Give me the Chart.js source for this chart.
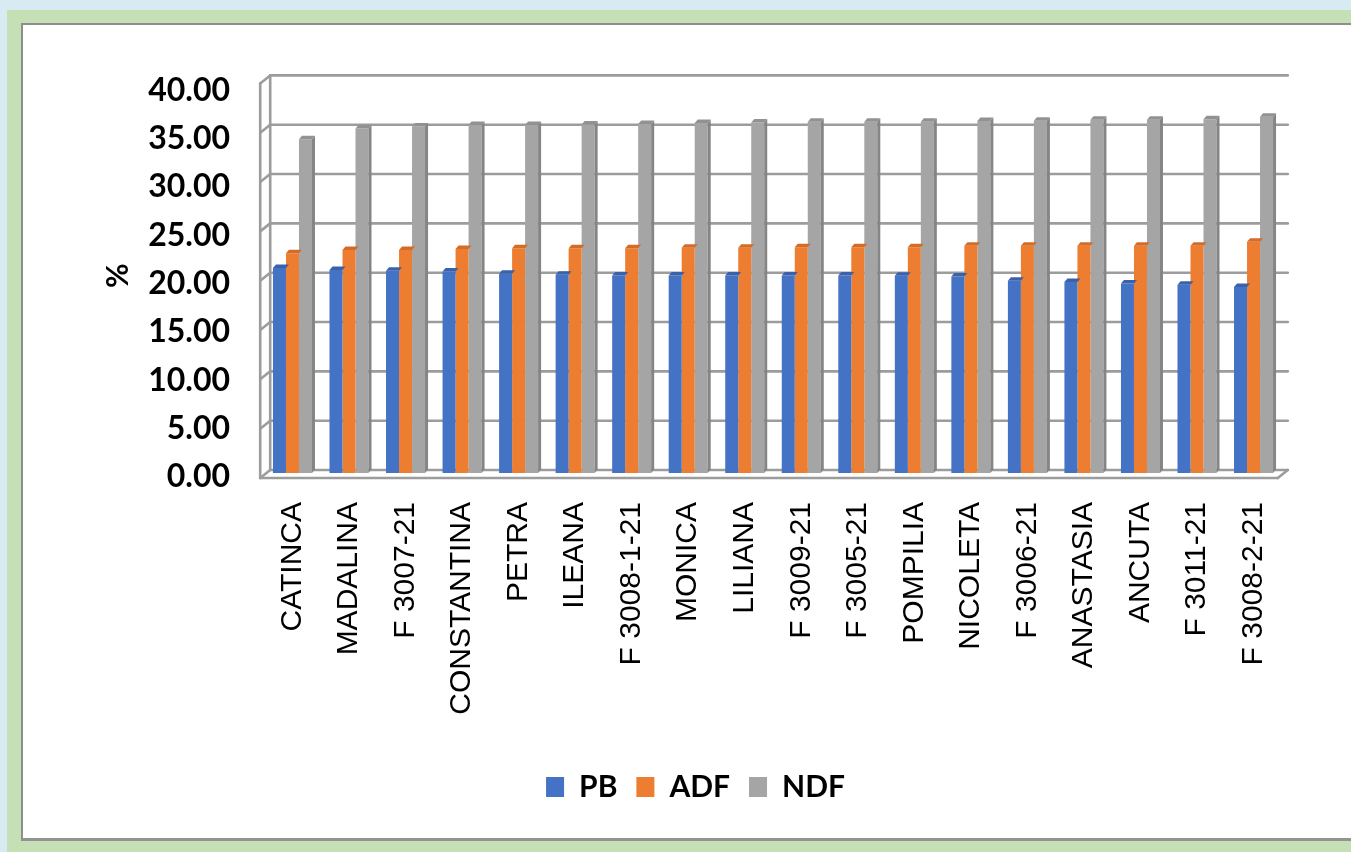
<!DOCTYPE html>
<html>
<head>
<meta charset="utf-8">
<script src="https://cdn.jsdelivr.net/npm/chart.js@4/dist/chart.umd.min.js"></script>
<style>
  html, body { margin: 0; padding: 0; }
  body { width: 1351px; height: 852px; overflow: hidden; background: #d7ebf3; position: relative; }
  .frame { position: absolute; left: 7px; top: 10px; right: 0; bottom: 0; background: #c4e0b4; }
  .panel { position: absolute; left: 21px; top: 23px; width: 1330px; height: 818px; box-sizing: border-box;
           background: #ffffff; border-left: 2px solid #8e8e8e; border-top: 2px solid #8e8e8e; border-bottom: 3px solid #939393; }
  .chart-box { position: absolute; left: 22px; top: 25px; width: 1329px; height: 814px; }
</style>
</head>
<body>
<div class="frame"></div>
<div class="panel"></div>
<div class="chart-box"><canvas id="chart"></canvas></div>
<script>
// Forage quality per variety / line (% of dry matter)
const categories = ['CATINCA', 'MADALINA', 'F 3007-21', 'CONSTANTINA', 'PETRA', 'ILEANA', 'F 3008-1-21',
  'MONICA', 'LILIANA', 'F 3009-21', 'F 3005-21', 'POMPILIA', 'NICOLETA', 'F 3006-21', 'ANASTASIA',
  'ANCUTA', 'F 3011-21', 'F 3008-2-21'];
const seriesNames = ['PB', 'ADF', 'NDF'];
const pbValues  = [20.77, 20.59, 20.49, 20.42, 20.19, 20.09, 20.02, 20.02, 20.02, 20.02, 20.02, 19.99, 19.92, 19.49, 19.36, 19.21, 19.08, 18.85];
const adfValues = [22.28, 22.61, 22.61, 22.71, 22.78, 22.78, 22.78, 22.84, 22.84, 22.88, 22.88, 22.88, 23.04, 23.04, 23.04, 23.04, 23.04, 23.44];
const ndfValues = [33.82, 34.93, 35.13, 35.27, 35.27, 35.33, 35.37, 35.47, 35.53, 35.60, 35.60, 35.60, 35.67, 35.70, 35.80, 35.80, 35.87, 36.10];
const yTicks = [0, 5, 10, 15, 20, 25, 30, 35, 40];

const colors = ['#4472c4', '#ed7d31', '#a5a5a5'];
const capColors = ['#3a62ab', '#d46c27', '#929292'];
const sideColor = '#858585';

// Depth offsets of the pseudo 3-D box, relative to the plane of the bar fronts
const BACK = { x: 6, y: -3 };     // back wall
const FRONT = { x: -4, y: 5 };    // front edge of left wall and floor
const CAP = { x: 3, y: -3.5 };    // depth of each column

const wall3d = {
  id: 'wall3d',
  beforeDatasetsDraw(chart) {
    const { ctx, chartArea } = chart;
    const { left, right } = chartArea;
    const ys = chart.scales.y;
    const y0 = ys.getPixelForValue(0);
    const yMax = ys.getPixelForValue(40);
    const seg = (x1, y1, x2, y2) => { ctx.beginPath(); ctx.moveTo(x1, y1); ctx.lineTo(x2, y2); ctx.stroke(); };
    ctx.save();
    ctx.strokeStyle = '#9c9c9c';
    ctx.lineWidth = 2.6;
    ctx.lineCap = 'round';
    // left wall edges
    seg(left + FRONT.x, yMax + FRONT.y, left + FRONT.x, y0 + FRONT.y);
    seg(left + BACK.x, yMax + BACK.y, left + BACK.x, y0 + BACK.y);
    // gridlines on the back wall, continued across the left wall
    yTicks.forEach(v => {
      const p = ys.getPixelForValue(v);
      seg(left + FRONT.x, p + FRONT.y, left + BACK.x, p + BACK.y);
      seg(left + BACK.x, p + BACK.y, right + BACK.x, p + BACK.y);
    });
    // floor front edge
    seg(left + FRONT.x, y0 + FRONT.y, right + FRONT.x, y0 + FRONT.y);
    seg(right + FRONT.x, y0 + FRONT.y, right + BACK.x, y0 + BACK.y);
    ctx.restore();
  },
  afterDatasetsDraw(chart) {
    const { ctx } = chart;
    ctx.save();
    chart.data.datasets.forEach((ds, di) => {
      const meta = chart.getDatasetMeta(di);
      meta.data.forEach(bar => {
        const { x, y, width, base } = bar.getProps(['x', 'y', 'width', 'base'], true);
        const l = x - width / 2, r = x + width / 2;
        // top face
        ctx.fillStyle = capColors[di];
        ctx.beginPath();
        ctx.moveTo(l, y);
        ctx.lineTo(l + CAP.x, y + CAP.y);
        ctx.lineTo(r + CAP.x, y + CAP.y);
        ctx.lineTo(r, y);
        ctx.closePath();
        ctx.fill();
        // right side face of the rear-most series
        if (di === chart.data.datasets.length - 1) {
          ctx.fillStyle = sideColor;
          ctx.beginPath();
          ctx.moveTo(r, y);
          ctx.lineTo(r + CAP.x, y + CAP.y);
          ctx.lineTo(r + CAP.x, base + CAP.y);
          ctx.lineTo(r, base);
          ctx.closePath();
          ctx.fill();
        }
      });
    });
    ctx.restore();
  }
};

const valueSets = [pbValues, adfValues, ndfValues];

new Chart(document.getElementById('chart'), {
  type: 'bar',
  data: {
    labels: categories,
    datasets: seriesNames.map((name, i) => ({
      label: name,
      data: valueSets[i],
      backgroundColor: colors[i],
      borderWidth: 0,
      categoryPercentage: 0.69,
      barPercentage: 1.0,
      yAxisID: 'y'
    }))
  },
  options: {
    responsive: true,
    maintainAspectRatio: false,
    animation: false,
    layout: { padding: { left: 87.2, right: 69.2, top: 50.8, bottom: 27 } },
    plugins: {
      tooltip: { enabled: false },
      legend: {
        position: 'bottom',
        labels: {
          boxWidth: 18,
          boxHeight: 20,
          padding: 19,
          color: '#000000',
          font: { family: 'Lato', size: 30, weight: 'bold' }
        }
      }
    },
    scales: {
      x: {
        grid: { display: false, drawTicks: false },
        border: { display: false },
        ticks: {
          autoSkip: false,
          minRotation: 90,
          maxRotation: 90,
          padding: 29,
          color: '#000000',
          font: { family: 'Liberation Sans', size: 30 }
        },
        afterFit(scale) { scale.height = 280; }
      },
      y: {
        display: false,
        min: 0,
        max: 40
      },
      // value labels along the front edge of the left wall
      yl: {
        position: 'left',
        min: 0.411,
        max: 41.25,
        grid: { display: false, drawTicks: false },
        border: { display: false },
        afterBuildTicks(scale) { scale.ticks = yTicks.map(v => ({ value: v })); },
        ticks: {
          autoSkip: false,
          padding: 34.2,
          color: '#000000',
          font: { family: 'Lato', size: 32, weight: 'bold' },
          callback: v => Number(v).toFixed(2)
        },
        title: {
          display: true,
          text: '%',
          color: '#000000',
          padding: 0,
          font: { family: 'Lato', size: 30, weight: 'bold', lineHeight: 0.6 }
        },
        afterFit(scale) { scale.width = 155; }
      }
    }
  },
  plugins: [wall3d]
});
</script>
</body>
</html>
